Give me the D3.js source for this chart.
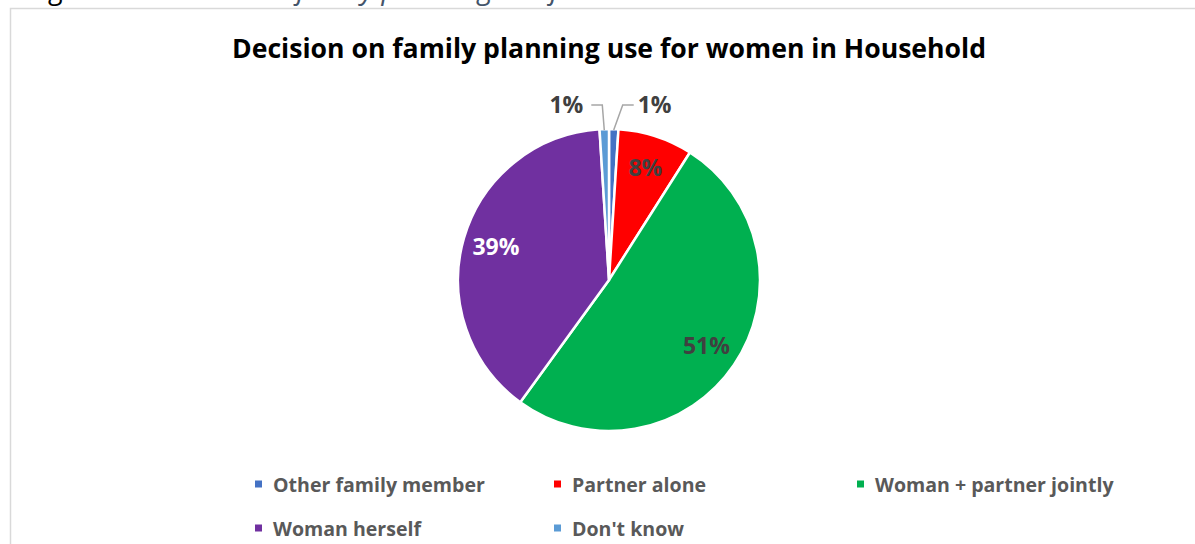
<!DOCTYPE html>
<html>
<head>
<meta charset="utf-8">
<script src="https://cdn.jsdelivr.net/npm/d3@7"></script>
<style>
  html, body { margin: 0; padding: 0; background: #ffffff; }
  svg { display: block; }
  text { font-family: "Open Sans", "Liberation Sans", sans-serif; }
</style>
</head>
<body>
<svg id="chart" width="1195" height="544"></svg>
<script>
// Who decides on family planning use (share of women, %)
const categories = ["Other family member", "Partner alone", "Woman + partner jointly", "Woman herself", "Don't know"];
const shares = [1, 8, 51, 39, 1];
const sliceColors = ["#4472C4", "#FF0000", "#00B050", "#7030A0", "#5B9BD5"];
const labelColors = ["#404040", "#404040", "#404040", "#FFFFFF", "#404040"];

const svg = d3.select("#chart");
const W = 1195, H = 544;

// Scale a text's font size so that it spans the given width
function fitWidth(sel, width) {
  const base = parseFloat(sel.style("font-size"));
  const len = sel.node().getComputedTextLength();
  sel.style("font-size", (base * width / len).toFixed(2) + "px");
  return base * width / len;
}

// Figure caption running above the chart frame
const caption = svg.append("text")
  .attr("x", 29).attr("y", -1.5)
  .style("font-style", "italic")
  .style("font-size", "20px")
  .attr("fill", "#44546A");
caption.append("tspan").attr("fill", "#000000").text("Figure 6: ");
caption.append("tspan").text("Decision on family planning use for women in Household");
fitWidth(caption, 830);

// Chart frame (only top and left edges fall inside the view)
svg.append("path")
  .attr("d", `M10.5,${H} V8.5 H${W}`)
  .attr("fill", "none")
  .attr("stroke", "#D9D9D9")
  .attr("stroke-width", 1.5);

// Title
const title = svg.append("text")
  .attr("x", 609).attr("y", 58)
  .attr("text-anchor", "middle")
  .style("font-weight", "bold")
  .style("font-size", "22px")
  .attr("fill", "#000000")
  .text("Decision on family planning use for women in Household");
fitWidth(title, 754);

// Pie
const cx = 609, cy = 280, R = 151;
const data = categories.map((c, i) => ({ name: c, value: shares[i], color: sliceColors[i], lc: labelColors[i] }));
const pie = d3.pie().sort(null).value(d => d.value);
const arcs = pie(data);
const arc = d3.arc().innerRadius(0).outerRadius(R);
const labelArc = d3.arc().innerRadius(R * 0.78).outerRadius(R * 0.78);

const g = svg.append("g").attr("transform", `translate(${cx},${cy})`);
g.selectAll("path.slice")
  .data(arcs)
  .join("path")
  .attr("class", "slice")
  .attr("d", arc)
  .attr("fill", d => d.data.color)
  .attr("stroke", "#FFFFFF")
  .attr("stroke-width", 2.5)
  .attr("stroke-linejoin", "round");

const labelSize = "23px";
const pct = v => d3.format(".0f")(v) + "%";

// Large slices: labels inside
const inside = arcs.filter(d => d.data.value >= 5);
g.selectAll("text.inlabel")
  .data(inside)
  .join("text")
  .attr("class", "inlabel")
  .attr("transform", d => `translate(${labelArc.centroid(d)})`)
  .attr("text-anchor", "middle")
  .attr("dy", "0.36em")
  .style("font-weight", "bold")
  .style("font-size", labelSize)
  .attr("fill", d => d.data.lc)
  .text(d => pct(d.data.value));

// Thin slices: labels outside with leader lines
const outside = arcs.filter(d => d.data.value < 5);
const pointAt = (a, r) => [Math.sin(a) * r, -Math.cos(a) * r];
outside.forEach(d => {
  const mid = (d.startAngle + d.endAngle) / 2;
  const right = Math.sin(mid) > 0;
  const p0 = pointAt(mid, R - 1);
  const ey = -R - 24;
  const p1 = [p0[0] + (right ? 9 : -2), ey];
  const p2 = [p1[0] + (right ? 11 : -11), ey];
  g.append("polyline")
    .attr("points", [p0, p1, p2].map(p => p.join(",")).join(" "))
    .attr("fill", "none")
    .attr("stroke", "#A6A6A6")
    .attr("stroke-width", 1.5);
  g.append("text")
    .attr("x", p2[0] + (right ? 4 : -8))
    .attr("y", ey + 8)
    .attr("text-anchor", right ? "start" : "end")
    .style("font-weight", "bold")
    .style("font-size", labelSize)
    .attr("fill", "#404040")
    .text(pct(d.data.value));
});

// Legend
const legendCols = [255, 554, 857];
const legendRows = [484, 528];
const legend = svg.append("g");
let legendSize = null;
data.forEach((d, i) => {
  const x = legendCols[i % 3], y = legendRows[Math.floor(i / 3)];
  legend.append("rect")
    .attr("x", x).attr("y", y - 3.5)
    .attr("width", 7).attr("height", 7)
    .attr("fill", d.color);
  const t = legend.append("text")
    .attr("x", x + 18).attr("y", y + 7.5)
    .style("font-weight", "bold")
    .style("font-size", legendSize ? legendSize + "px" : "20px")
    .attr("fill", "#595959")
    .text(d.name);
  if (i === 0) legendSize = fitWidth(t, 212);
});
</script>
</body>
</html>
